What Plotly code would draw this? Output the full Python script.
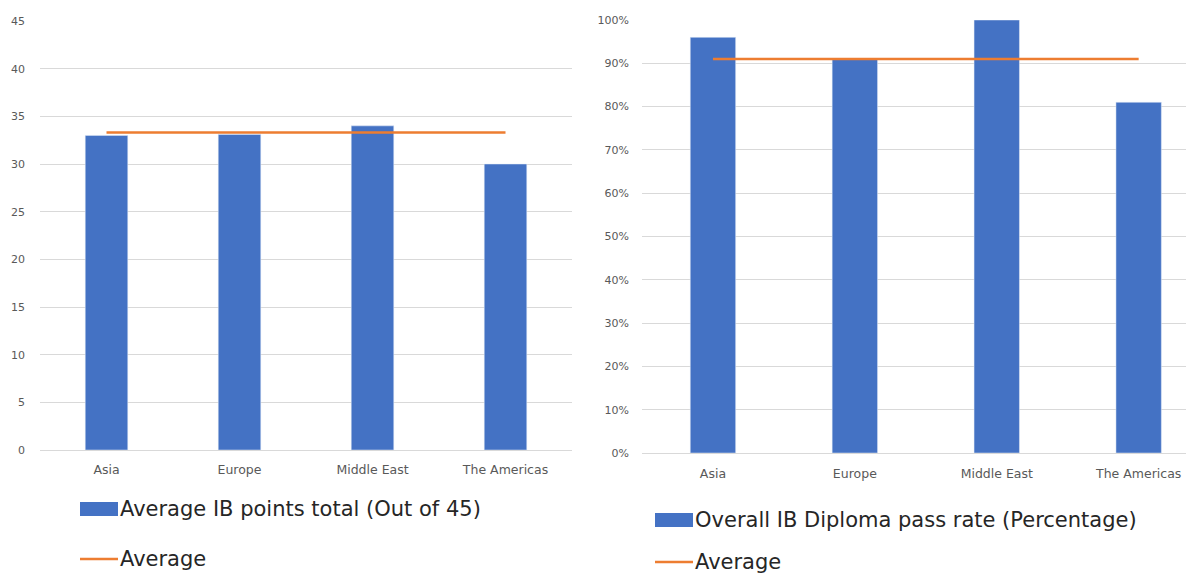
import plotly.graph_objects as go

categories = ["Asia", "Europe", "Middle East", "The Americas"]
points_values = [33, 33.1, 34, 30]
points_average = [33.3, 33.3, 33.3, 33.3]
pass_values = [0.96, 0.91, 1.00, 0.81]
pass_average = [0.91, 0.91, 0.91, 0.91]
left_ticks = [0, 5, 10, 15, 20, 25, 30, 35, 40, 45]
right_ticks = [0, 0.1, 0.2, 0.3, 0.4, 0.5, 0.6, 0.7, 0.8, 0.9, 1.0]
right_tick_text = ["0%", "10%", "20%", "30%", "40%", "50%", "60%", "70%", "80%", "90%", "100%"]
legend_left = ["Average IB points total (Out of 45)", "Average"]
legend_right = ["Overall IB Diploma pass rate (Percentage)", "Average"]

W, H = 1194, 574
OFF = 8  # page body margin
BLUE = "#4472C4"
ORANGE = "#ED7D31"
GRID = "#D9D9D9"
TICK = "#595959"

def px(x):
    return (x - OFF) / W

def py(y):
    return (H - (y - OFF)) / H

fig = go.Figure()
fig.add_trace(go.Bar(x=categories, y=points_values, marker_color=BLUE, width=0.32,
                     xaxis="x", yaxis="y", showlegend=False))
fig.add_trace(go.Scatter(x=categories, y=points_average, mode="lines",
                         line=dict(color=ORANGE, width=2.5), xaxis="x", yaxis="y", showlegend=False))
fig.add_trace(go.Bar(x=categories, y=pass_values, marker_color=BLUE, width=0.32,
                     xaxis="x2", yaxis="y2", showlegend=False))
fig.add_trace(go.Scatter(x=categories, y=pass_average, mode="lines",
                         line=dict(color=ORANGE, width=2.5), xaxis="x2", yaxis="y2", showlegend=False))

ytickfont = dict(family="DejaVu Sans", size=11, color=TICK)
xtickfont = dict(family="DejaVu Sans", size=12.5, color=TICK)
fig.update_layout(
    width=W, height=H, margin=dict(l=0, r=0, t=0, b=0, autoexpand=False),
    paper_bgcolor="white", plot_bgcolor="white",
    xaxis=dict(domain=[px(40), px(572)], range=[-0.5, 3.5], showgrid=False,
               showline=True, linecolor=GRID, linewidth=1, ticks="", tickfont=xtickfont,
               ticklabelstandoff=8, anchor="y", automargin=False),
    yaxis=dict(domain=[py(450), py(21)], range=[0, 45], tickvals=left_ticks,
               showgrid=True, gridcolor=GRID, gridwidth=1, zeroline=False,
               showline=False, ticks="", tickfont=ytickfont, ticklabelstandoff=14,
               anchor="x", automargin=False),
    xaxis2=dict(domain=[px(642), px(1194)], range=[-0.5, 3.39], showgrid=False,
                showline=True, linecolor=GRID, linewidth=1, ticks="", tickfont=xtickfont,
                ticklabelstandoff=9, anchor="y2", automargin=False),
    yaxis2=dict(domain=[py(453), py(20)], range=[0, 1.0], tickvals=right_ticks,
                ticktext=right_tick_text, showgrid=True, gridcolor=GRID, gridwidth=1,
                zeroline=False, showline=False, ticks="", tickfont=ytickfont,
                ticklabelstandoff=12, anchor="x2", automargin=False),
)

legfont = dict(family="DejaVu Sans", size=21, color="#262626")
shapes = []
annotations = []
for (x0, ybar, yline, labels) in [(80, 509, 559, legend_left), (655, 520, 562, legend_right)]:
    shapes.append(dict(type="rect", xref="paper", yref="paper", x0=px(x0), x1=px(x0 + 38),
                       y0=py(ybar + 7), y1=py(ybar - 7), fillcolor=BLUE, line=dict(width=0)))
    shapes.append(dict(type="line", xref="paper", yref="paper", x0=px(x0), x1=px(x0 + 38),
                       y0=py(yline), y1=py(yline), line=dict(color=ORANGE, width=2.5)))
    annotations.append(dict(text=labels[0], xref="paper", yref="paper", x=px(x0 + 38), y=py(ybar),
                            xanchor="left", yanchor="middle", showarrow=False, font=legfont))
    annotations.append(dict(text=labels[1], xref="paper", yref="paper", x=px(x0 + 38), y=py(yline),
                            xanchor="left", yanchor="middle", showarrow=False, font=legfont))
fig.update_layout(shapes=shapes, annotations=annotations)

fig.write_html("out.html")
